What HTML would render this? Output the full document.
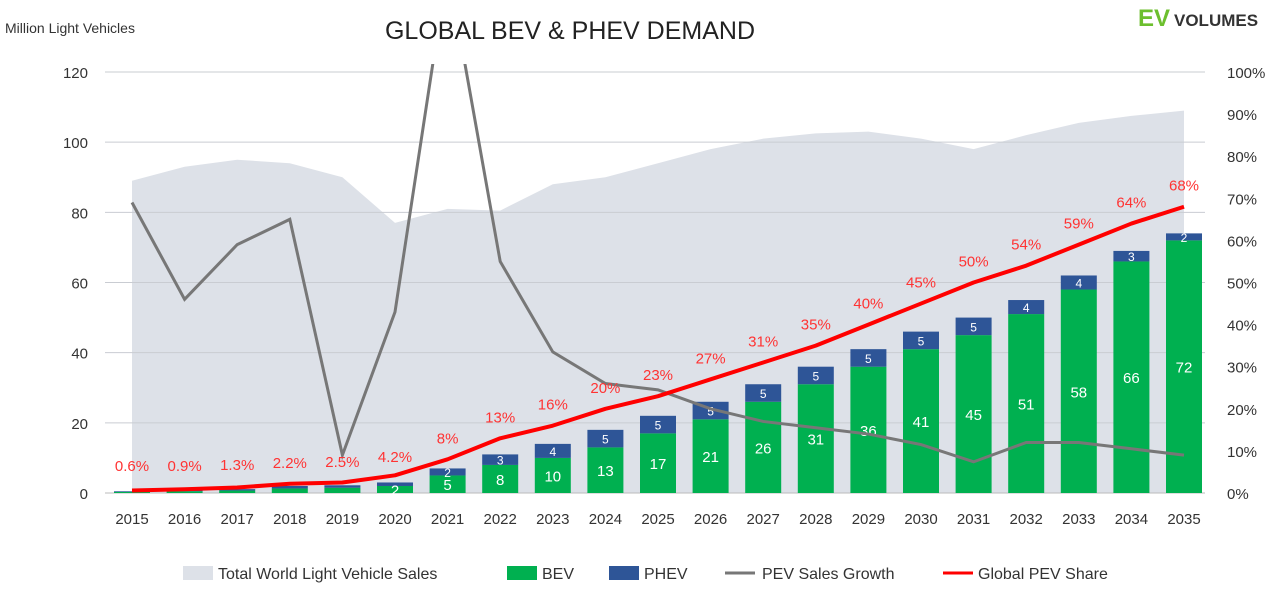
<!DOCTYPE html>
<html><head><meta charset="utf-8"><style>
body{margin:0;background:#fff;font-family:"Liberation Sans",sans-serif;}
svg text{font-family:"Liberation Sans",sans-serif;}
</style></head><body>
<svg id="c" width="1280" height="590">
<text x="5" y="33" font-size="14" fill="#333">Million Light Vehicles</text>
<text x="570" y="39" font-size="25" fill="#222" text-anchor="middle">GLOBAL BEV &amp; PHEV DEMAND</text>
<g><text x="1138" y="26" font-size="24" font-weight="bold" fill="#6cbf2e">EV</text><text x="1174" y="26" font-size="17" font-weight="bold" fill="#333">VOLUMES</text></g>
<defs><clipPath id="pc"><rect x="100" y="64" width="1110" height="440"/></clipPath></defs>
<g id="plot"></g>
<g id="legend" font-size="16" fill="#333">
<rect x="183" y="566" width="30" height="14" fill="#dde1e8"/><text x="218" y="579">Total World Light Vehicle Sales</text>
<rect x="507" y="566" width="30" height="14" fill="#00b050"/><text x="542" y="579">BEV</text>
<rect x="609" y="566" width="30" height="14" fill="#2e5597"/><text x="644" y="579">PHEV</text>
<line x1="725" y1="573" x2="755" y2="573" stroke="#777" stroke-width="3"/><text x="762" y="579">PEV Sales Growth</text>
<line x1="943" y1="573" x2="973" y2="573" stroke="#f00" stroke-width="3"/><text x="978" y="579">Global PEV Share</text>
</g>
</svg>
<script>
const years=[2015,2016,2017,2018,2019,2020,2021,2022,2023,2024,2025,2026,2027,2028,2029,2030,2031,2032,2033,2034,2035];
const totalSales=[89,93,95,94,90,77,81,80.5,88,90,94,98,101,102.5,103,101,98,102,105.5,107.5,109];
const bev=[0.3,0.5,0.7,1.3,1.5,2,5,8,10,13,17,21,26,31,36,41,45,51,58,66,72];
const phev=[0.2,0.3,0.4,0.7,0.7,1,2,3,4,5,5,5,5,5,5,5,5,4,4,3,2];
const bevLabels=["","","","","","2","5","8","10","13","17","21","26","31","36","41","45","51","58","66","72"];
const phevLabels=["","","","","","","2","3","4","5","5","5","5","5","5","5","5","4","4","3","2"];
const share=[0.6,0.9,1.3,2.2,2.5,4.2,8,13,16,20,23,27,31,35,40,45,50,54,59,64,68];
const shareLabels=["0.6%","0.9%","1.3%","2.2%","2.5%","4.2%","8%","13%","16%","20%","23%","27%","31%","35%","40%","45%","50%","54%","59%","64%","68%"];
const growth=[69,46,59,65,9,43,125,55,33.5,26,24.5,20,17,15.5,14,11.5,7.4,12,12,10.5,9];
const leftTicks=[0,20,40,60,80,100,120];
const rightTicks=[0,10,20,30,40,50,60,70,80,90,100];
const NS="http://www.w3.org/2000/svg";
const x=i=>132+i*(1184-132)/(years.length-1);
const yL=v=>493-v*(493-72)/120;
const yR=p=>493-p*(493-72)/100;
const g=document.getElementById('plot');
function mk(t,a,p){const e=document.createElementNS(NS,t);for(const k in a)e.setAttribute(k,a[k]);(p||g).appendChild(e);return e;}
// area
let d=`M${x(0)},${yL(0)}`;totalSales.forEach((v,i)=>d+=`L${x(i)},${yL(v)}`);d+=`L${x(years.length-1)},${yL(0)}Z`;
const area=mk('path',{d,fill:'#dde1e8'});


leftTicks.forEach(t=>{
 const l=mk('line',{x1:105,x2:1205,y1:yL(t),y2:yL(t),stroke:t===0?'#bbb':'#c9ccd2','stroke-width':1});
 
 
 const tx=mk('text',{x:88,y:yL(t)+6,'font-size':15,fill:'#333','text-anchor':'end'});tx.textContent=t;
 
 
});
rightTicks.forEach(t=>{
 const tx=mk('text',{x:1227,y:yR(t)+6,'font-size':15,fill:'#333'});tx.textContent=t+'%';
 
 
});
years.forEach((yr,i)=>{
 const bw=36,cx=x(i);
 const b=mk('rect',{x:cx-bw/2,y:yL(bev[i]),width:bw,height:yL(0)-yL(bev[i]),fill:'#00b050'});
 
 
 const p=mk('rect',{x:cx-bw/2,y:yL(bev[i]+phev[i]),width:bw,height:yL(bev[i])-yL(bev[i]+phev[i]),fill:'#2e5597'});
 
 
 if(bevLabels[i]){const t=mk('text',{x:cx,y:(yL(bev[i])+yL(0))/2+6,'font-size':15,fill:'#fff','text-anchor':'middle'});t.textContent=bevLabels[i];
  
  }
 if(phevLabels[i]){const t=mk('text',{x:cx,y:(yL(bev[i])+yL(bev[i]+phev[i]))/2+5,'font-size':12,fill:'#fff','text-anchor':'middle'});t.textContent=phevLabels[i];
  
  }
 const xl=mk('text',{x:cx,y:524,'font-size':15,fill:'#333','text-anchor':'middle'});xl.textContent=yr;
 
 
});
const gl=mk('polyline',{points:growth.map((v,i)=>x(i)+','+yR(v)).join(' '),fill:'none',stroke:'#777','stroke-width':3,'clip-path':'url(#pc)'});


const sl=mk('polyline',{points:share.map((v,i)=>x(i)+','+yR(v)).join(' '),fill:'none',stroke:'#f00','stroke-width':4,'stroke-linejoin':'round'});


share.forEach((v,i)=>{
 const off=i<6?16:16;
 const t=mk('text',{x:x(i),y:Math.min(yR(v)-off,yR(v)-16)-(i<6?5:0),'font-size':15,fill:'#f33','text-anchor':'middle'});
 if(i<6)t.setAttribute('y',[471,471,470,468,467,462][i]);
 t.textContent=shareLabels[i];
 
 
});
</script>
</body></html>
